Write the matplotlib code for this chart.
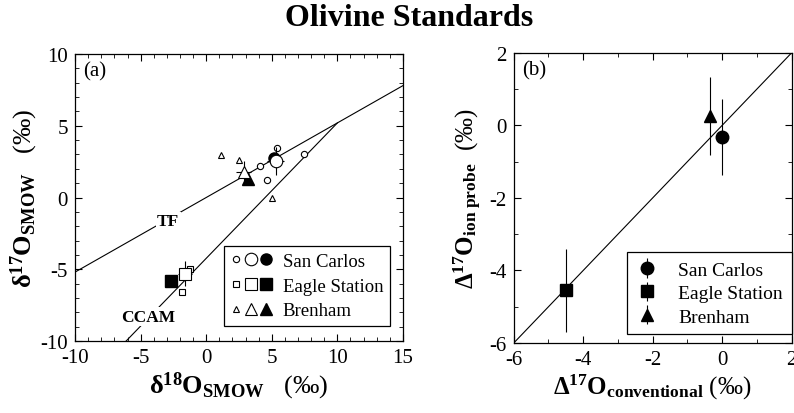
import numpy as np
import matplotlib
matplotlib.use("Agg")
import matplotlib.pyplot as plt
from matplotlib.lines import Line2D
from matplotlib.legend_handler import HandlerTuple

plt.rcParams['font.family'] = ['Liberation Serif', 'DejaVu Serif']
plt.rcParams['mathtext.fontset'] = 'custom'
plt.rcParams['mathtext.rm'] = 'Liberation Serif'
plt.rcParams['mathtext.it'] = 'Liberation Serif:italic'
plt.rcParams['mathtext.bf'] = 'Liberation Serif:bold'
plt.rcParams['axes.unicode_minus'] = False

# ---------------- panel (a) data ----------------
# reference lines
tf_x = [-10.0, 15.0]
tf_y = [-5.2, 7.8]
ccam_x = [-6.1, 10.0]
ccam_y = [-10.0, 5.2]

# San Carlos
sc_pts_x = [5.4, 4.1, 4.65, 7.45]
sc_pts_y = [3.45, 2.2, 1.2, 3.0]
sc_mean = (5.3, 2.55)
sc_mean_err = (0.65, 1.0)
sc_conv = (5.15, 2.75)

# Eagle Station
es_pts_x = [-1.25, -1.85]
es_pts_y = [-5.0, -6.6]
es_mean = (-1.6, -5.3)
es_mean_err = (0.55, 0.85)
es_conv = (-2.7, -5.8)

# Brenham
br_pts_x = [1.1, 2.5, 5.0]
br_pts_y = [2.95, 2.6, -0.05]
br_mean = (2.85, 1.8)
br_mean_err = (0.6, 0.75)
br_conv = (3.2, 1.3)

# ---------------- panel (b) data ----------------
b_names = ["San Carlos", "Eagle Station", "Brenham"]
b_markers = ["o", "s", "^"]
b_conv = [0.0, -4.5, -0.35]
b_ion = [-0.32, -4.55, 0.25]
b_err = [1.05, 1.15, 1.07]
one_to_one = [-6, 2]

fig = plt.figure(figsize=(7.94, 4.14), dpi=100)
ax1 = fig.add_axes([0.0945, 0.174, 0.413, 0.693])
ax2 = fig.add_axes([0.647, 0.169, 0.350, 0.701])

fig.text(0.515, 0.955, "Olivine Standards", ha='center', va='center',
         fontsize=23, fontweight='bold')

lw = 0.8
# lines
ax1.plot(tf_x, tf_y, color='k', lw=lw, zorder=1)
ax1.plot(ccam_x, ccam_y, color='k', lw=lw, zorder=1)
ax1.text(-2.9, -1.65, "TF", fontsize=12.5, fontweight='bold', ha='center', va='center',
         bbox=dict(fc='white', ec='none', pad=1), zorder=2)
ax1.text(-4.4, -8.3, "CCAM", fontsize=12.5, fontweight='bold', ha='center', va='center',
         bbox=dict(fc='white', ec='none', pad=1), zorder=2)

groups = [
    ("San Carlos", "o", sc_pts_x, sc_pts_y, sc_mean, sc_mean_err, sc_conv, 4.5, 9, 8),
    ("Eagle Station", "s", es_pts_x, es_pts_y, es_mean, es_mean_err, es_conv, 4.5, 9, 8),
    ("Brenham", "^", br_pts_x, br_pts_y, br_mean, br_mean_err, br_conv, 4.5, 8.5, 8),
]
handles = []
labels = []
for name, m, px, py, mean, err, conv, s_small, s_mean, s_conv in groups:
    ax1.plot(px, py, ls='', marker=m, ms=s_small, mfc='white', mec='k', mew=0.8, zorder=3)
    ax1.plot(conv[0], conv[1], ls='', marker=m, ms=s_conv, mfc='k', mec='k', zorder=3)
    ax1.errorbar(mean[0], mean[1], xerr=err[0], yerr=err[1], fmt=m, ms=s_mean,
                 mfc='white', mec='k', mew=0.8, ecolor='k', elinewidth=0.8, capsize=0, zorder=4)
    h = (Line2D([], [], ls='', marker=m, ms=s_small, mfc='white', mec='k', mew=0.8),
         Line2D([], [], ls='', marker=m, ms=s_mean, mfc='white', mec='k', mew=0.8),
         Line2D([], [], ls='', marker=m, ms=s_conv, mfc='k', mec='k'))
    handles.append(h)
    labels.append(name)

leg1 = ax1.legend(handles, labels, handler_map={tuple: HandlerTuple(ndivide=None, pad=0.2)},
                  loc='lower right', bbox_to_anchor=(0.96, 0.053), borderaxespad=0,
                  fontsize=13.5, handlelength=2.2, handletextpad=0.6, labelspacing=0.4,
                  fancybox=False, framealpha=1, edgecolor='k', borderpad=0.35)
leg1.get_frame().set_linewidth(0.9)

ax1.set_xlim(-10, 15)
ax1.set_ylim(-10, 10)
ax1.set_xticks(np.arange(-10, 16, 5))
ax1.set_yticks(np.arange(-10, 11, 5))
ax1.set_xticks(np.arange(-10, 16, 1), minor=True)
ax1.set_yticks(np.arange(-10, 11, 1), minor=True)
ax1.text(0.025, 0.975, "(a)", transform=ax1.transAxes, fontsize=15, ha='left', va='top')
ax1.set_xlabel(r'$\mathbf{\delta^{18}O_{SMOW}}$' + '   (‰)', fontsize=19, labelpad=2)
ax1.set_ylabel(r'$\mathbf{\delta^{17}O_{SMOW}}$' + '   (‰)', fontsize=19, labelpad=0)

# panel (b)
ax2.plot(one_to_one, one_to_one, color='k', lw=lw, zorder=1)
for name, m, xc, yi, e in zip(b_names, b_markers, b_conv, b_ion, b_err):
    ax2.errorbar(xc, yi, yerr=e, fmt=m, ms=9, mfc='k', mec='k', ecolor='k',
                 elinewidth=0.8, capsize=0, label=name, zorder=3)
leg2 = ax2.legend(loc='lower right', bbox_to_anchor=(1.0, 0.03), borderaxespad=0,
                  fontsize=14, handlelength=1.2, handletextpad=1.0, labelspacing=0.3,
                  fancybox=False, framealpha=1, edgecolor='k', borderpad=0.45)
leg2.get_frame().set_linewidth(0.9)
ax2.set_xlim(-6, 2)
ax2.set_ylim(-6, 2)
ax2.set_xticks(np.arange(-6, 3, 2))
ax2.set_yticks(np.arange(-6, 3, 2))
ax2.set_xticks(np.arange(-6, 3, 1), minor=True)
ax2.set_yticks(np.arange(-6, 3, 1), minor=True)
ax2.text(0.03, 0.975, "(b)", transform=ax2.transAxes, fontsize=15, ha='left', va='top')
ax2.set_xlabel(r'$\mathbf{\Delta^{17}O_{conventional}}$' + ' (‰)', fontsize=18, labelpad=2)
ax2.set_ylabel(r'$\mathbf{\Delta^{17}O_{ion\ probe}}$' + '  (‰)', fontsize=18, labelpad=4)

for ax in (ax1, ax2):
    ax.tick_params(which='both', direction='in', top=True, right=True, labelsize=15, pad=5)
    ax.tick_params(which='major', length=5, width=0.8)
    ax.tick_params(which='minor', length=3, width=0.6)
    for sp in ax.spines.values():
        sp.set_linewidth(0.9)

fig.savefig("out.png", dpi=100)
